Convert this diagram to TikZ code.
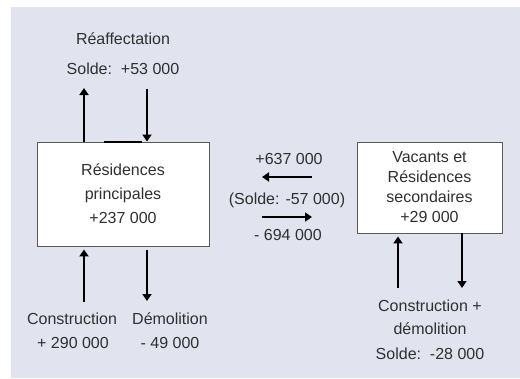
\documentclass[tikz,border=0pt]{standalone}
\usepackage{fontspec}
\setmainfont{Liberation Sans}
\usepackage{tikz}
\usetikzlibrary{arrows.meta}
\definecolor{fond}{HTML}{E1E3EF}
\definecolor{texte}{HTML}{303030}

\begin{document}
\begin{tikzpicture}[x=1pt,y=-1pt,font=\fontsize{16}{20}\selectfont,
  flux/.style={line width=1.8pt,-{Triangle[width=9pt,length=7pt]}},
  boite/.style={draw=black!65,line width=0.9pt,fill=white,align=center,text=texte,inner sep=0pt},
  lbl/.style={text=texte,anchor=base,inner sep=0pt}]
\useasboundingbox (0,0) rectangle (520,378);
\fill[fond] (11,7) rectangle (520,378);
% boites
\node[boite,minimum width=172pt,minimum height=104pt,font=\fontsize{16}{24}\selectfont] (resprin) at (123,194) {Résidences\\principales\\+237 000};
\node[boite,minimum width=145pt,minimum height=91pt] (vacants) at (429.5,187.5) {Vacants et\\Résidences\\secondaires\\+29 000};
\draw[line width=1.8pt] (104,142) -- (142,142);
% textes
\node[lbl] (reaf) at (123,44) {Réaffectation};
\node[lbl] (solde1) at (123,74) {Solde:\ \ +53 000};
\node[lbl] (echin) at (289,164) {+637 000};
\node[lbl] (solde2) at (287,204) {(Solde: -57 000)};
\node[lbl] (echout) at (288,240) {- 694 000};
\node[lbl] (constr) at (72,324) {Construction};
\node[lbl] (constrval) at (73,348) {+ 290 000};
\node[lbl] (demol) at (170,324) {Démolition};
\node[lbl] (demolval) at (170,348) {- 49 000};
\node[lbl] (cd1) at (430,311) {Construction +};
\node[lbl] (cd2) at (430,334) {démolition};
\node[lbl] (solde3) at (430,359) {Solde:\ \ -28 000};
% extremites des fleches
\coordinate (reafhaut1) at (84,88);
\coordinate (reafhaut2) at (147,89);
\coordinate (constrbas) at (84,302);
\coordinate (demolbas) at (147,301);
\coordinate (vbas1) at (398,288);
\coordinate (vbas2) at (462,288);
\coordinate (mg) at (262,0);
\coordinate (md) at (312,0);
% fleches
\draw[flux] (resprin.north -| reafhaut1) -- (reafhaut1);
\draw[flux] (reafhaut2) -- (resprin.north -| reafhaut2);
\draw[flux] (constrbas) -- ([yshift=-3pt]resprin.south -| constrbas);
\draw[flux] ([yshift=-4pt]resprin.south -| demolbas) -- (demolbas);
\draw[flux] (vbas1) -- ([yshift=-3pt]vacants.south -| vbas1);
\draw[flux] (vacants.south -| vbas2) -- (vbas2);
\draw[flux] (md |- 0,177) -- (mg |- 0,177);
\draw[flux] (mg |- 0,217) -- (md |- 0,217);
\end{tikzpicture}
\end{document}
